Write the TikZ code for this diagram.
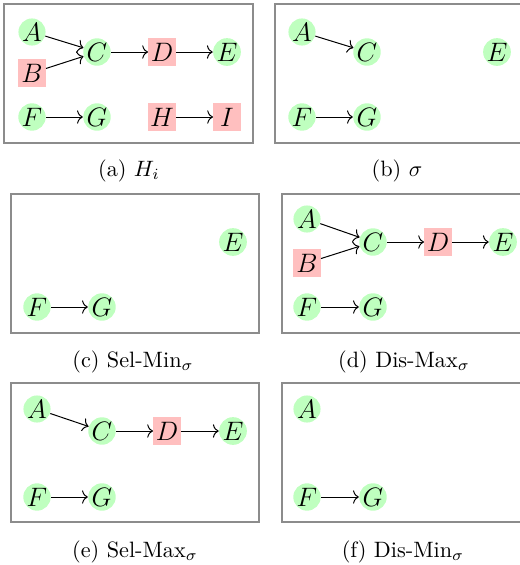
\documentclass[tikz,border=0pt]{standalone}
\usetikzlibrary{arrows.meta}
\begin{document}
\begin{tikzpicture}[
  x=0.45pt,
  y=-0.45pt,
  panel/.style={draw=black!45, line width=0.6pt},
  kept/.style={circle, fill=green!25, inner sep=0pt, minimum size=12.2pt, font=\large},
  dropped/.style={rectangle, fill=red!25, inner sep=0pt, minimum size=12.2pt, font=\large},
  link/.style={-{To[length=2.6pt, width=6pt]}, line width=0.45pt},
  subcap/.style={anchor=base},
]
  \useasboundingbox (0,0) rectangle (520,565);
  \clip (0,0) rectangle (520,565);

  % (a) H_i
  \draw[panel] (4,4) rectangle (253,143);
  \node[kept] (aA) at (32,32) {$A$};
  \node[dropped] (aB) at (32,73) {$B$};
  \node[kept] (aC) at (97,52) {$C$};
  \node[dropped] (aD) at (162,52) {$D$};
  \node[kept] (aE) at (227,52) {$E$};
  \node[kept] (aF) at (32,117) {$F$};
  \node[kept] (aG) at (97,117) {$G$};
  \node[dropped] (aH) at (162,117) {$H$};
  \node[dropped] (aI) at (227,117) {$I$};
  \draw[link] (aA) -- (aC);
  \draw[link] (aB) -- (aC);
  \draw[link] (aC) -- (aD);
  \draw[link] (aD) -- (aE);
  \draw[link] (aF) -- (aG);
  \draw[link] (aH) -- (aI);
  \node[subcap] (capa) at (129,176) {(a)~$H_i$};

  % (b) sigma
  \draw[panel] (275,4) rectangle (524,143);
  \node[kept] (bA) at (302,32) {$A$};
  \node[kept] (bC) at (367,52) {$C$};
  \node[kept] (bE) at (497,52) {$E$};
  \node[kept] (bF) at (302,117) {$F$};
  \node[kept] (bG) at (367,117) {$G$};
  \draw[link] (bA) -- (bC);
  \draw[link] (bF) -- (bG);
  \node[subcap] (capb) at (397,176) {(b)~$\sigma$};

  % (c) Sel-Min
  \draw[panel] (11,194) rectangle (259,333);
  \node[kept] (cE) at (233,242) {$E$};
  \node[kept] (cF) at (37,307) {$F$};
  \node[kept] (cG) at (102,307) {$G$};
  \draw[link] (cF) -- (cG);
  \node[subcap] (capc) at (133,367) {(c) Sel-Min$_\sigma$};

  % (d) Dis-Max
  \draw[panel] (282,194) rectangle (530,333);
  \node[kept] (dA) at (307,219) {$A$};
  \node[dropped] (dB) at (307,263) {$B$};
  \node[kept] (dC) at (373,242) {$C$};
  \node[dropped] (dD) at (438,242) {$D$};
  \node[kept] (dE) at (503,242) {$E$};
  \node[kept] (dF) at (307,307) {$F$};
  \node[kept] (dG) at (373,307) {$G$};
  \draw[link] (dA) -- (dC);
  \draw[link] (dB) -- (dC);
  \draw[link] (dC) -- (dD);
  \draw[link] (dD) -- (dE);
  \draw[link] (dF) -- (dG);
  \node[subcap] (capd) at (404,367) {(d) Dis-Max$_\sigma$};

  % (e) Sel-Max
  \draw[panel] (11,383) rectangle (259,522);
  \node[kept] (eA) at (37,409) {$A$};
  \node[kept] (eC) at (102,431) {$C$};
  \node[dropped] (eD) at (167,431) {$D$};
  \node[kept] (eE) at (233,431) {$E$};
  \node[kept] (eF) at (37,497) {$F$};
  \node[kept] (eG) at (102,497) {$G$};
  \draw[link] (eA) -- (eC);
  \draw[link] (eC) -- (eD);
  \draw[link] (eD) -- (eE);
  \draw[link] (eF) -- (eG);
  \node[subcap] (cape) at (135,557) {(e) Sel-Max$_\sigma$};

  % (f) Dis-Min
  \draw[panel] (282,383) rectangle (530,522);
  \node[kept] (fA) at (307,409) {$A$};
  \node[kept] (fF) at (307,497) {$F$};
  \node[kept] (fG) at (373,497) {$G$};
  \draw[link] (fF) -- (fG);
  \node[subcap] (capf) at (403,557) {(f) Dis-Min$_\sigma$};
\end{tikzpicture}
\end{document}
